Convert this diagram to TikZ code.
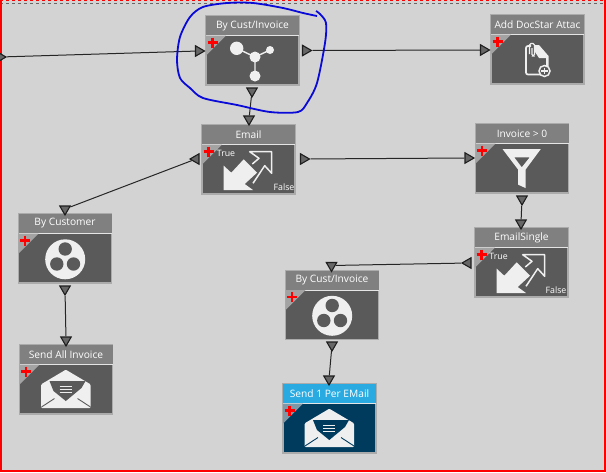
\documentclass[tikz,border=0pt]{standalone}
\usepackage{fontspec}
\setmainfont{Open Sans}
\usepackage{tikz}
\usetikzlibrary{arrows.meta,positioning,calc,shapes.geometric}

\definecolor{canvasgrey}{HTML}{D3D3D3}
\definecolor{cardbody}{HTML}{5A5A5A}
\definecolor{cardhead}{HTML}{808080}
\definecolor{cardcorner}{HTML}{A3A3A3}
\definecolor{cardedge}{HTML}{ABABAB}
\definecolor{iconwhite}{HTML}{EFEFEF}
\definecolor{activebody}{HTML}{003B5E}
\definecolor{activehead}{HTML}{29ABE2}
\definecolor{activecorner}{HTML}{7E98A8}
\definecolor{porttip}{HTML}{1E1E1E}
\definecolor{penblue}{HTML}{0A0AD8}

\tikzset{
	port/.style={draw=porttip,line width=1.1pt,fill=gray!80!black,shape=isosceles triangle,
		isosceles triangle apex angle=60,minimum size=0pt,inner sep=0pt,
		minimum height=9pt,minimum width=9pt},
	portright/.style={port},
	portleft/.style={port,shape border rotate=180},
	portdown/.style={port,shape border rotate=270},
	link/.style={draw=black!85,line width=1pt},
	cardtitle/.style={text=white,font=\fontsize{10.2}{11}\selectfont,inner sep=0pt},
	cardlabel/.style={text=white,font=\fontsize{8.8}{9}\selectfont,inner sep=0pt},
	hubicon/.pic={
		\draw[iconwhite,line width=1.4pt] (30.7,32.3)--(49,41)--(64,34) (49,41)--(49,60);
		\fill[iconwhite] (30.7,32.3) circle[radius=6.7];
		\fill[iconwhite] (49,41) circle[radius=5.5];
		\fill[iconwhite] (64,34) circle[radius=4];
		\fill[iconwhite] (49,60) circle[radius=5.5];
	},
	groupicon/.pic={
		\fill[iconwhite] (46.7,45.3) circle[radius=20];
		\fill[cardbody] (46.7,35) circle[radius=6.7];
		\fill[cardbody] (38.3,50) circle[radius=6.7];
		\fill[cardbody] (55,50) circle[radius=6.7];
	},
	branchicon/.pic={
		\fill[iconwhite] (21.7,65)--(21.7,40.7)--(29.3,47.7)--(41.7,34.3)--(55,47.7)--(42.7,59)--(51,65)--cycle;
		\draw[iconwhite,line width=1.5pt,line join=round] (50.3,39)--(57,33.3)--(47.7,26.7)--(69.7,26.7)--(69.7,48.3)--(62.7,40.7)--(51,58.3);
	},
	funnelicon/.pic={
		\fill[iconwhite,even odd rule] (27,25)--(65.3,25)--(50,45.7)--(50,64)--(42.7,60.7)--(42.7,45.7)--cycle
			(38.7,33.3)--(54.3,33.3)--(46.3,43.3)--cycle;
	},
	mailicon/.pic={
		\fill[iconwhite,rounded corners=1pt] (21.7,39.3)--(46.3,24.7)--(71,39.3)--(71,63)--(21.7,63)--cycle;
		\fill[#1] (30,36)--(66,36)--(62,43)--(46.3,56)--(34,46)--cycle;
		\draw[iconwhite,line width=0.9pt] (40,41)--(52,41) (40,44.5)--(52,44.5) (40,47.5)--(52,47.5);
		\draw[#1,line width=0.9pt] (22,62)--(35,53.5) (71,62)--(58,53.5);
	},
	attachicon/.pic={
		\draw[iconwhite,line width=1.7pt,rounded corners=2pt] (40,31)--(35,31)--(35,59.5)--(50,59.5);
		\fill[iconwhite] (44,30)--(48,30)--(57.5,41)--(57.5,51)--(55,51)--(55,43)--(48,43)--(44,37)--cycle;
		\draw[iconwhite,line width=1.1pt,rounded corners=1.5pt] (38.5,39)--(38.5,28.5)--(43.5,28.5)--(43.5,41)--(41,41)--(41,33);
		\draw[iconwhite,line width=1.5pt,fill=cardbody] (53.5,56) circle[radius=5.5];
		\draw[iconwhite,line width=1.5pt] (50.3,56)--(56.7,56) (53.5,52.8)--(53.5,59.2);
	},
}

% one card: name, left edge, top edge, title, icon, colours
\newcommand{\flowcard}[8]{%
	\fill[#6] (#2,#3) rectangle ++(93,69);
	\draw[cardedge,line width=1.2pt] (#2,#3) rectangle ++(93,69);
	\fill[#7] (#2,#3) rectangle ++(93,19.5);
	\draw[white!80!gray,line width=0.6pt] (#2,#3+19.5)--++(93,0);
	\fill[#8] (#2,#3+19.5)--++(20,0)--++(-20,20)--cycle;
	\draw[red,line width=2.6pt] (#2+1.5,#3+26.5)--++(10,0) (#2+6.5,#3+21.5)--++(0,10);
	\path (#2,#3) pic {#5};
	\node[cardtitle] (#1) at (#2+46.5,#3+9.5) {#4};
}

\begin{document}
\begin{tikzpicture}[x=1pt,y=-1pt]
	\useasboundingbox (0,0) rectangle (606,472);
	\clip (0,0) rectangle (606,472);
	% screen background
	\fill[canvasgrey] (0,0) rectangle (606,472);
	\fill[white] (0,471.5) rectangle (606,472);
	\draw[gray!80!black,dashed,line width=0.9pt] (0,3.5)--(606,3.5);
	\draw[red,dashed,line width=1.4pt] (0,0.5)--(606,0.5);
	\draw[red,line width=2pt] (1,0)--(1,470.5)--(605,470.5)--(605,0);

	% cards
	\flowcard{custinv}{206}{16}{By Cust/Invoice}{hubicon}{cardbody}{cardhead}{cardcorner}
	\flowcard{docstar}{491}{15}{Add DocStar Attac}{attachicon}{cardbody}{cardhead}{cardcorner}
	\flowcard{email}{202}{125}{Email}{branchicon}{cardbody}{cardhead}{cardcorner}
	\flowcard{invcount}{475.5}{124}{Invoice > 0}{funnelicon}{cardbody}{cardhead}{cardcorner}
	\flowcard{single}{475}{228}{EmailSingle}{branchicon}{cardbody}{cardhead}{cardcorner}
	\flowcard{custgroup}{18.5}{214}{By Customer}{groupicon}{cardbody}{cardhead}{cardcorner}
	\flowcard{invgroup}{285.5}{270.5}{By Cust/Invoice}{groupicon}{cardbody}{cardhead}{cardcorner}
	\flowcard{sendall}{19.5}{345}{Send All Invoice}{mailicon=cardbody}{cardbody}{cardhead}{cardcorner}
	\flowcard{sendone}{283}{384}{Send 1 Per EMail}{mailicon=activebody}{activebody}{activehead}{activecorner}

	% true and false labels
	\node[cardlabel] (emailtrue) at (226,153.5) {True};
	\node[cardlabel] (emailfalse) at (284,187.5) {False};
	\node[cardlabel] (singletrue) at (498.5,256.5) {True};
	\node[cardlabel] (singlefalse) at (556,290.5) {False};

	% ports
	\node[portright] (startout) at (0,57) {};
	\node[portright] (custinvin) at (198.5,51) {};
	\node[portright] (custinvout) at (305.5,50.5) {};
	\node[portdown] (custinvdown) at (252,91) {};
	\node[portright] (docstarin) at (483.5,50) {};
	\node[portdown] (emailin) at (249,119) {};
	\node[portleft] (emailleft) at (196,159) {};
	\node[portright] (emailright) at (303.5,159) {};
	\node[portright] (invcountin) at (468,158) {};
	\node[portdown] (invcountdown) at (522,199) {};
	\node[portdown] (singlein) at (521,223) {};
	\node[portleft] (singleleft) at (468,263) {};
	\node[portdown] (custgroupin) at (65,209) {};
	\node[portdown] (custgroupdown) at (65,289) {};
	\node[portdown] (sendallin) at (66,340) {};
	\node[portdown] (invgroupin) at (331.5,265.5) {};
	\node[portdown] (invgroupdown) at (332,345) {};
	\node[portdown] (sendonein) at (329,379) {};

	% links
	\draw[link] (startout)--(custinvin);
	\draw[link] (custinvout)--(docstarin);
	\draw[link] (custinvdown)--(emailin);
	\draw[link] (emailleft)--(custgroupin);
	\draw[link] (emailright)--(invcountin);
	\draw[link] (invcountdown)--(singlein);
	\draw[link] (singleleft)--(invgroupin);
	\draw[link] (custgroupdown)--(sendallin);
	\draw[link] (invgroupdown)--(sendonein);

	% pen mark round the first card
	\draw[penblue,line width=1.8pt,line join=round] plot[smooth] coordinates {
		(316,11) (320,14) (326,23) (325,43) (317,83) (307,103) (298,112) (270,112) (237,105) (203,98)
		(190,88) (180,78) (177,60) (180,37) (190,17) (203,7) (227,3) (253,3) (283,8) (303,13) (317,16)};
\end{tikzpicture}
\end{document}
